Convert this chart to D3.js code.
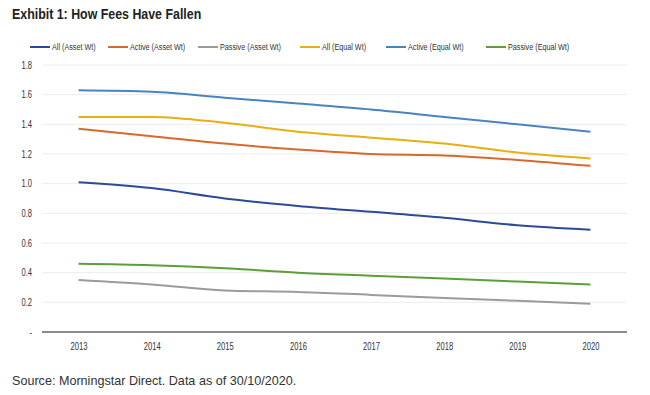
<!DOCTYPE html>
<meta charset="utf-8">
<style>
body { margin: 0; background: #fff; }
svg { display: block; }
.narrow { font-family: "Liberation Sans", Arial, sans-serif; }
.axis text { fill: #333; }
.legend text { font-size: 9.5px; fill: #333; }
.title { font-size: 15.5px; font-weight: bold; fill: #222; }
.source { font-family: "Liberation Sans", Arial, sans-serif; font-size: 12.6px; fill: #333; }
</style>
<svg width="650" height="395"></svg>
<script src="https://d3js.org/d3.v7.min.js"></script>
<script>

var years = [2013, 2014, 2015, 2016, 2017, 2018, 2019, 2020];

var allAsset      = [1.01, 0.97, 0.90, 0.85, 0.81, 0.77, 0.72, 0.69];
var activeAsset   = [1.37, 1.32, 1.27, 1.23, 1.20, 1.19, 1.16, 1.12];
var passiveAsset  = [0.35, 0.32, 0.28, 0.27, 0.25, 0.23, 0.21, 0.19];
var allEqual      = [1.45, 1.45, 1.41, 1.35, 1.31, 1.27, 1.21, 1.17];
var activeEqual   = [1.63, 1.62, 1.58, 1.54, 1.50, 1.45, 1.40, 1.35];
var passiveEqual  = [0.46, 0.45, 0.43, 0.40, 0.38, 0.36, 0.34, 0.32];

var seriesNames = ["All (Asset Wt)", "Active (Asset Wt)", "Passive (Asset Wt)",
                   "All (Equal Wt)", "Active (Equal Wt)", "Passive (Equal Wt)"];
var yTicks = [0, 0.2, 0.4, 0.6, 0.8, 1.0, 1.2, 1.4, 1.6, 1.8];

var colors = ["#2c4a9a", "#d8692c", "#9b9b9b", "#e6b012", "#4a84bf", "#5b9f3b"];
var series = [allAsset, activeAsset, passiveAsset, allEqual, activeEqual, passiveEqual];

// squeeze factor to mimic the narrow font of the original
var sq = 0.76;

var svg = d3.select("svg"),
    margin = {top: 65, right: 23, bottom: 63, left: 42},
    width = +svg.attr("width") - margin.left - margin.right,
    height = +svg.attr("height") - margin.top - margin.bottom;

svg.append("text")
    .attr("class", "title narrow")
    .attr("transform", "translate(12,19) scale(0.8,1)")
    .text("Exhibit 1: How Fees Have Fallen");

var x = d3.scalePoint()
    .domain(years)
    .range([0, width])
    .padding(0.5);

var y = d3.scaleLinear()
    .domain([0, 1.8])
    .range([height, 0]);

var g = svg.append("g")
    .attr("transform", "translate(" + margin.left + "," + margin.top + ")");

// gridlines
g.append("g")
  .selectAll("line")
  .data(yTicks.slice(1))
  .enter().append("line")
    .attr("x1", 0).attr("x2", width)
    .attr("y1", function(d) { return y(d); })
    .attr("y2", function(d) { return y(d); })
    .attr("stroke", "#ececec")
    .attr("stroke-width", 1);

// y axis labels
var yAxis = g.append("g").attr("class", "axis narrow")
    .attr("font-size", 10)
    .call(d3.axisLeft(y).tickValues(yTicks).tickSize(0).tickPadding(10)
      .tickFormat(function(d) { return d === 0 ? "-" : d3.format(".1f")(d); }));
yAxis.select(".domain").remove();
yAxis.selectAll("text")
    .attr("x", -10 / sq)
    .attr("transform", "scale(" + sq + ",1)");

// x axis
var xAxis = g.append("g").attr("class", "axis narrow")
    .attr("font-size", 9.5)
    .attr("transform", "translate(0," + height + ")")
    .call(d3.axisBottom(x).tickSize(0).tickPadding(11));
xAxis.select(".domain").attr("stroke", "#8c8c8c").attr("stroke-width", 2)
    .attr("d", "M0,0H" + width);
xAxis.selectAll("text").attr("transform", "scale(" + sq + ",1)");

var line = d3.line()
    .x(function(d, i) { return x(years[i]); })
    .y(function(d) { return y(d); })
    .curve(d3.curveMonotoneX);

g.append("g")
  .selectAll("path")
  .data(series)
  .enter().append("path")
    .attr("fill", "none")
    .attr("stroke", function(d, i) { return colors[i]; })
    .attr("stroke-width", 2)
    .attr("d", line);

// legend
var legendX = [30, 108, 198, 300, 386, 486];
var legend = svg.append("g").attr("class", "legend narrow")
  .selectAll("g")
  .data(seriesNames)
  .enter().append("g")
    .attr("transform", function(d, i) { return "translate(" + legendX[i] + ",47)"; });

legend.append("line")
    .attr("x1", 0).attr("x2", 20)
    .attr("stroke", function(d, i) { return colors[i]; })
    .attr("stroke-width", 2);

legend.append("text")
    .attr("x", 22 / sq)
    .attr("dy", "0.35em")
    .attr("transform", "scale(" + sq + ",1)")
    .text(function(d) { return d; });

svg.append("text")
    .attr("class", "source")
    .attr("x", 12)
    .attr("y", 385)
    .text("Source: Morningstar Direct. Data as of 30/10/2020.");

</script>
